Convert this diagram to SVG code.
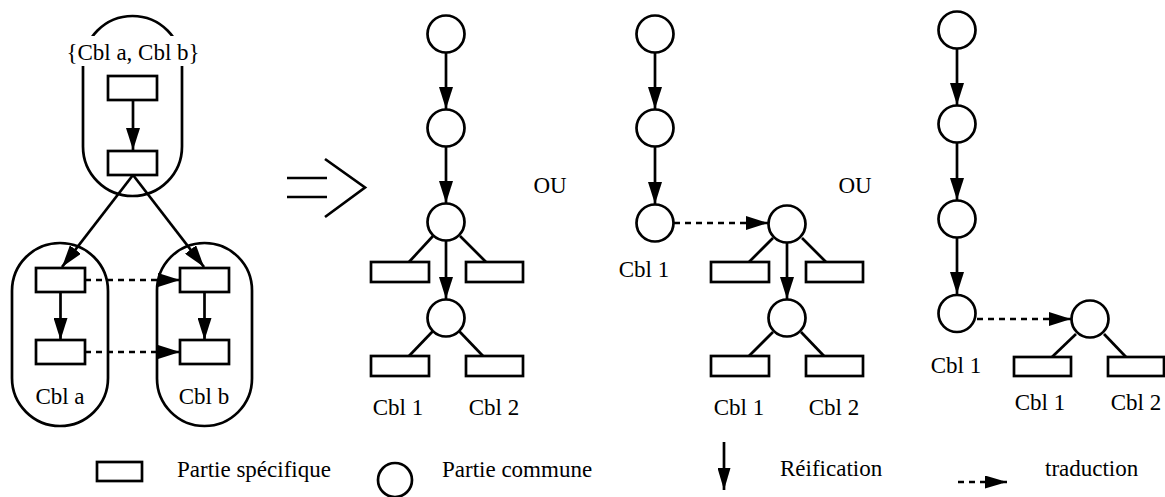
<svg xmlns="http://www.w3.org/2000/svg" width="1165" height="497" viewBox="0 0 1165 497">
<defs>
<style>
.s{fill:#fff;stroke:#000;stroke-width:2.7}
.l{fill:none;stroke:#000;stroke-width:2.7}
.a{fill:none;stroke:#000;stroke-width:2.7;marker-end:url(#ah)}
.d{fill:none;stroke:#000;stroke-width:2.7;stroke-dasharray:6,5;marker-end:url(#ah)}
.m{text-anchor:middle}
</style>
<marker id="ah" markerUnits="userSpaceOnUse" markerWidth="22" markerHeight="14" refX="22" refY="7" orient="auto" viewBox="0 0 22 14">
<path d="M0,0 L22,7 L0,14 z" fill="#000"/>
</marker>
<marker id="ahs" markerUnits="userSpaceOnUse" markerWidth="22" markerHeight="13" refX="22" refY="6.5" orient="auto" viewBox="0 0 22 13">
<path d="M0,0 L22,6.5 L0,13 z" fill="#000"/>
</marker>
</defs>
<rect width="1165" height="497" fill="#fff"/>

<g id="connectors">
<line class="a" x1="133" y1="100" x2="133" y2="150"/>
<line class="a" x1="133" y1="175" x2="62" y2="267"/>
<line class="a" x1="133" y1="175" x2="204" y2="267"/>
<line class="a" x1="60.5" y1="292" x2="60.5" y2="340"/>
<line class="a" x1="204.5" y1="292" x2="204.5" y2="340"/>
<line class="d" x1="85" y1="280" x2="180" y2="280"/>
<line class="d" x1="85" y1="352" x2="180" y2="352"/>

<line class="a" x1="446" y1="53" x2="446" y2="109"/>
<line class="a" x1="446" y1="147" x2="446" y2="203"/>
<line class="a" x1="446" y1="241" x2="446" y2="299"/>
<line class="l" x1="433" y1="236" x2="409" y2="262"/>
<line class="l" x1="460" y1="236" x2="486" y2="262"/>
<line class="l" x1="433" y1="331" x2="409" y2="356"/>
<line class="l" x1="459" y1="331" x2="483" y2="356"/>

<line class="a" x1="655" y1="53" x2="655" y2="109"/>
<line class="a" x1="655" y1="147" x2="655" y2="204"/>
<line class="d" x1="674" y1="223" x2="768" y2="223"/>
<line class="a" x1="787" y1="243" x2="787" y2="299"/>
<line class="l" x1="773" y1="238" x2="749" y2="262"/>
<line class="l" x1="802" y1="238" x2="826" y2="262"/>
<line class="l" x1="773" y1="332" x2="749" y2="356"/>
<line class="l" x1="801" y1="332" x2="824" y2="356"/>

<line class="a" x1="957" y1="49" x2="957" y2="105"/>
<line class="a" x1="957" y1="143" x2="957" y2="200"/>
<line class="a" x1="957" y1="238" x2="957" y2="294"/>
<line class="d" x1="977" y1="319" x2="1071" y2="319"/>
<line class="l" x1="1076" y1="334" x2="1052" y2="357"/>
<line class="l" x1="1104" y1="334" x2="1126" y2="357"/>
</g>

<g id="implies">
<line class="l" x1="287" y1="178" x2="327" y2="178"/>
<line class="l" x1="287" y1="197" x2="327" y2="197"/>
<polyline class="l" points="325,159 365,187.5 325,217"/>
</g>

<g id="labels" font-family="Liberation Serif, serif" font-size="23">
<g id="group-ab">
<rect class="l" x="83" y="16" width="99" height="180" rx="49.5" ry="49.5"/>
<rect x="66" y="36" width="134" height="30" fill="#fff"/>
<text class="m" x="133" y="60">{Cbl a, Cbl b}</text>
<rect class="s" x="108" y="76" width="49" height="24"/>
<rect class="s" x="108" y="151" width="49" height="24"/>
</g>
<g id="group-a">
<rect class="l" x="12" y="243" width="96" height="183" rx="48" ry="48"/>
<rect class="s" x="36" y="268" width="49" height="24"/>
<rect class="s" x="36" y="340" width="49" height="24"/>
<text class="m" x="60" y="404">Cbl a</text>
</g>
<g id="group-b">
<rect class="l" x="157" y="243" width="95" height="183" rx="47.5" ry="47.5"/>
<rect class="s" x="180" y="268" width="49" height="24"/>
<rect class="s" x="180" y="340" width="49" height="24"/>
<text class="m" x="204" y="404">Cbl b</text>
</g>

<g id="tree1">
<circle class="s" cx="446" cy="34" r="18.5"/>
<circle class="s" cx="446" cy="128" r="18.5"/>
<circle class="s" cx="446" cy="222" r="18.5"/>
<circle class="s" cx="446" cy="318" r="18.5"/>
<rect class="s" x="371" y="262" width="58" height="20"/>
<rect class="s" x="466" y="262" width="57" height="20"/>
<rect class="s" x="371" y="356" width="58" height="20"/>
<rect class="s" x="466" y="356" width="57" height="20"/>
<text class="m" x="398" y="415">Cbl 1</text>
<text class="m" x="494" y="415">Cbl 2</text>
</g>
<text id="ou1" class="m" x="550" y="193">OU</text>

<g id="tree2">
<circle class="s" cx="655" cy="34" r="18.5"/>
<circle class="s" cx="655" cy="128" r="18.5"/>
<circle class="s" cx="655" cy="223" r="18.5"/>
<text class="m" x="644" y="277">Cbl 1</text>
<circle class="s" cx="787" cy="224" r="18.5"/>
<circle class="s" cx="787" cy="318" r="18.5"/>
<rect class="s" x="711" y="262" width="58" height="20"/>
<rect class="s" x="806" y="262" width="57" height="20"/>
<rect class="s" x="711" y="356" width="58" height="20"/>
<rect class="s" x="806" y="356" width="57" height="20"/>
<text class="m" x="739" y="415">Cbl 1</text>
<text class="m" x="834" y="415">Cbl 2</text>
</g>
<text id="ou2" class="m" x="855" y="193">OU</text>

<g id="tree3">
<circle class="s" cx="957" cy="30" r="18.5"/>
<circle class="s" cx="957" cy="124" r="18.5"/>
<circle class="s" cx="957" cy="219" r="18.5"/>
<circle class="s" cx="957" cy="313.5" r="18.5"/>
<text class="m" x="956" y="373">Cbl 1</text>
<circle class="s" cx="1090" cy="319" r="18.5"/>
<rect class="s" x="1014" y="357" width="57" height="19"/>
<rect class="s" x="1108" y="357" width="56" height="19"/>
<text class="m" x="1040" y="410">Cbl 1</text>
<text class="m" x="1136" y="410">Cbl 2</text>
</g>

<g id="legend">
<rect class="s" x="97" y="462" width="45" height="19"/>
<text x="177" y="477">Partie spécifique</text>
<circle class="s" cx="395" cy="480" r="17"/>
<text x="442" y="477">Partie commune</text>
<line x1="724" y1="442" x2="724" y2="490" stroke="#000" stroke-width="2.7" marker-end="url(#ahs)"/>
<text x="780" y="476">Réification</text>
<line x1="958" y1="482" x2="1007" y2="482" stroke="#000" stroke-width="2.7" stroke-dasharray="6,5" marker-end="url(#ahs)"/>
<text x="1045" y="476">traduction</text>
</g>
</g>
</svg>
